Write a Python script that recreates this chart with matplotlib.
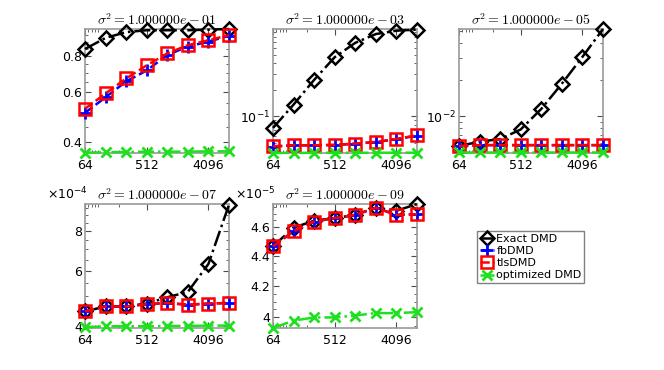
import numpy as np
import matplotlib.pyplot as plt
from matplotlib.ticker import FixedLocator, NullFormatter

plt.rcParams['mathtext.fontset'] = 'cm'
plt.rcParams['font.family'] = 'DejaVu Sans'

# number of snapshots (x axis, log2 scale)
nsnap = [64, 128, 256, 512, 1024, 2048, 4096, 8192]
xtick_labels = ['64', '512', '4096']
sigma_titles = ['1.000000e-01', '1.000000e-03', '1.000000e-05',
                '1.000000e-07', '1.000000e-09']

# errors, one list per method per noise level
exact1 = [0.85, 0.93, 0.975, 0.99, 0.99, 0.99, 0.995, 1.0]
fb1 = [0.506, 0.574, 0.653, 0.714, 0.81, 0.867, 0.903, 0.946]
tls1 = [0.523, 0.592, 0.669, 0.744, 0.82, 0.877, 0.913, 0.951]
opt1 = [0.366, 0.367, 0.368, 0.369, 0.369, 0.369, 0.37, 0.37]

exact2 = [0.074, 0.136, 0.259, 0.468, 0.68, 0.855, 0.933, 0.96]
fb2 = [0.0455, 0.047, 0.047, 0.0474, 0.049, 0.0512, 0.0553, 0.0605]
tls2 = [0.0459, 0.0471, 0.0471, 0.0476, 0.0492, 0.0514, 0.0556, 0.061]
opt2 = [0.0386, 0.0386, 0.0387, 0.0387, 0.0387, 0.0388, 0.0388, 0.0388]

exact3 = [0.0057, 0.0062, 0.0065, 0.0078, 0.0115, 0.0185, 0.0307, 0.052]
fb3 = [0.0057, 0.0058, 0.0058, 0.0058, 0.0058, 0.0058, 0.0058, 0.0058]
tls3 = [0.0057, 0.0058, 0.0058, 0.0058, 0.0058, 0.0058, 0.0058, 0.0058]
opt3 = [0.00505, 0.00505, 0.00505, 0.00505, 0.00505, 0.00505, 0.00505, 0.00505]

exact4 = [4.46e-4, 4.62e-4, 4.62e-4, 4.72e-4, 4.94e-4, 5.14e-4, 6.3e-4, 9.7e-4]
fb4 = [4.46e-4, 4.62e-4, 4.62e-4, 4.70e-4, 4.74e-4, 4.68e-4, 4.72e-4, 4.74e-4]
tls4 = [4.46e-4, 4.62e-4, 4.62e-4, 4.70e-4, 4.74e-4, 4.68e-4, 4.72e-4, 4.74e-4]
opt4 = [3.97e-4, 4.0e-4, 4.0e-4, 4.0e-4, 4.01e-4, 4.01e-4, 4.02e-4, 4.02e-4]

exact5 = [4.467e-5, 4.598e-5, 4.648e-5, 4.667e-5, 4.69e-5, 4.742e-5, 4.72e-5, 4.77e-5]
fb5 = [4.467e-5, 4.572e-5, 4.642e-5, 4.667e-5, 4.69e-5, 4.742e-5, 4.69e-5, 4.695e-5]
tls5 = [4.467e-5, 4.572e-5, 4.642e-5, 4.667e-5, 4.69e-5, 4.742e-5, 4.69e-5, 4.695e-5]
opt5 = [3.935e-5, 3.98e-5, 4.0e-5, 4.0e-5, 4.012e-5, 4.027e-5, 4.027e-5, 4.033e-5]

series = [(exact1, fb1, tls1, opt1), (exact2, fb2, tls2, opt2),
          (exact3, fb3, tls3, opt3), (exact4, fb4, tls4, opt4),
          (exact5, fb5, tls5, opt5)]

# y tick setup per panel
yticks = [[0.4, 0.6, 0.8], [0.1], [0.01], [4e-4, 6e-4, 8e-4],
          [4e-5, 4.2e-5, 4.4e-5, 4.6e-5]]
ytick_labels = [['0.4', '0.6', '0.8'], [r'$\mathregular{10^{-1}}$'],
                [r'$\mathregular{10^{-2}}$'], ['4', '6', '8'],
                ['4', '4.2', '4.4', '4.6']]
yminor = [np.arange(0.45, 1.0, 0.05),
          list(np.arange(0.04, 0.1, 0.01)) + list(np.arange(0.2, 1.0, 0.1)),
          list(np.arange(0.005, 0.01, 0.001)) + list(np.arange(0.02, 0.06, 0.01)),
          np.arange(4.5e-4, 1e-3, 0.5e-4),
          np.arange(3.95e-5, 4.8e-5, 0.05e-5)]
ylims = [(0.365, 1.0), (0.0385, 0.975), (0.005, 0.052),
         (3.95e-4, 9.75e-4), (3.935e-5, 4.77e-5)]
multipliers = [None, None, None, r'$\mathregular{\times10^{-4}}$',
               r'$\mathregular{\times10^{-5}}$']

W, H = 664, 370
lefts = [85, 273, 459, 85, 273]
tops = [29, 29, 29, 204, 204]
aw, ah = 144, 124

fig = plt.figure(figsize=(W/100, H/100), dpi=100)

handles = None
for i in range(5):
    ax = fig.add_axes([lefts[i]/W, 1 - (tops[i] + ah)/H, aw/W, ah/H])
    exact, fb, tls, opt = series[i]
    h1, = ax.plot(nsnap, exact, color='k', ls='-.', lw=1.8, marker='D',
                  ms=7.5, mfc='none', mew=1.8, clip_on=False, zorder=3)
    h2, = ax.plot(nsnap, fb, color='b', ls='--', lw=1.8, marker='+',
                  ms=9, mew=2, clip_on=False, zorder=3)
    h3, = ax.plot(nsnap, tls, color='r', ls='--', lw=1.8, marker='s',
                  ms=8.5, mfc='none', mew=1.8, clip_on=False, zorder=3)
    h4, = ax.plot(nsnap, opt, color='#1ee01e', ls='-.', lw=1.8, marker='x',
                  ms=7, mew=2, clip_on=False, zorder=3)
    handles = [h1, h2, h3, h4]

    ax.set_xscale('log', base=2)
    ax.set_yscale('log')
    ax.set_xlim(64, 8192)
    ax.set_ylim(*ylims[i])
    ax.set_xticks([64, 512, 4096], xtick_labels)
    ax.xaxis.set_minor_locator(FixedLocator([70, 80, 90, 100, 200]))
    ax.xaxis.set_minor_formatter(NullFormatter())
    ax.set_yticks(yticks[i], ytick_labels[i])
    ax.yaxis.set_minor_locator(FixedLocator(yminor[i]))
    ax.yaxis.set_minor_formatter(NullFormatter())
    ax.tick_params(which='both', direction='in', top=True, right=True,
                   labelsize=9, colors='0.3', labelcolor='k', pad=2)
    ax.tick_params(axis='x', which='major', pad=4)
    ax.tick_params(which='major', length=4)
    ax.tick_params(which='minor', length=2.5)
    for s in ax.spines.values():
        s.set_color('0.6')
        s.set_linewidth(1.2)
    ax.set_title(r'$\sigma^2 = ' + sigma_titles[i] + '$', fontsize=10, pad=3)
    if multipliers[i]:
        ax.text(0.02, 1.01, multipliers[i], transform=ax.transAxes,
                ha='right', va='bottom', fontsize=9)

fig.legend(handles, ['Exact DMD', 'fbDMD', 'tlsDMD', 'optimized DMD'],
           loc='upper left', bbox_to_anchor=(477/W, 1 - 231/H),
           fontsize=8, frameon=True, fancybox=False, edgecolor='0.5',
           framealpha=1, handlelength=1.3, handletextpad=0.2,
           borderpad=0.25, labelspacing=0.2, borderaxespad=0)

fig.savefig('out.png', dpi=100)
